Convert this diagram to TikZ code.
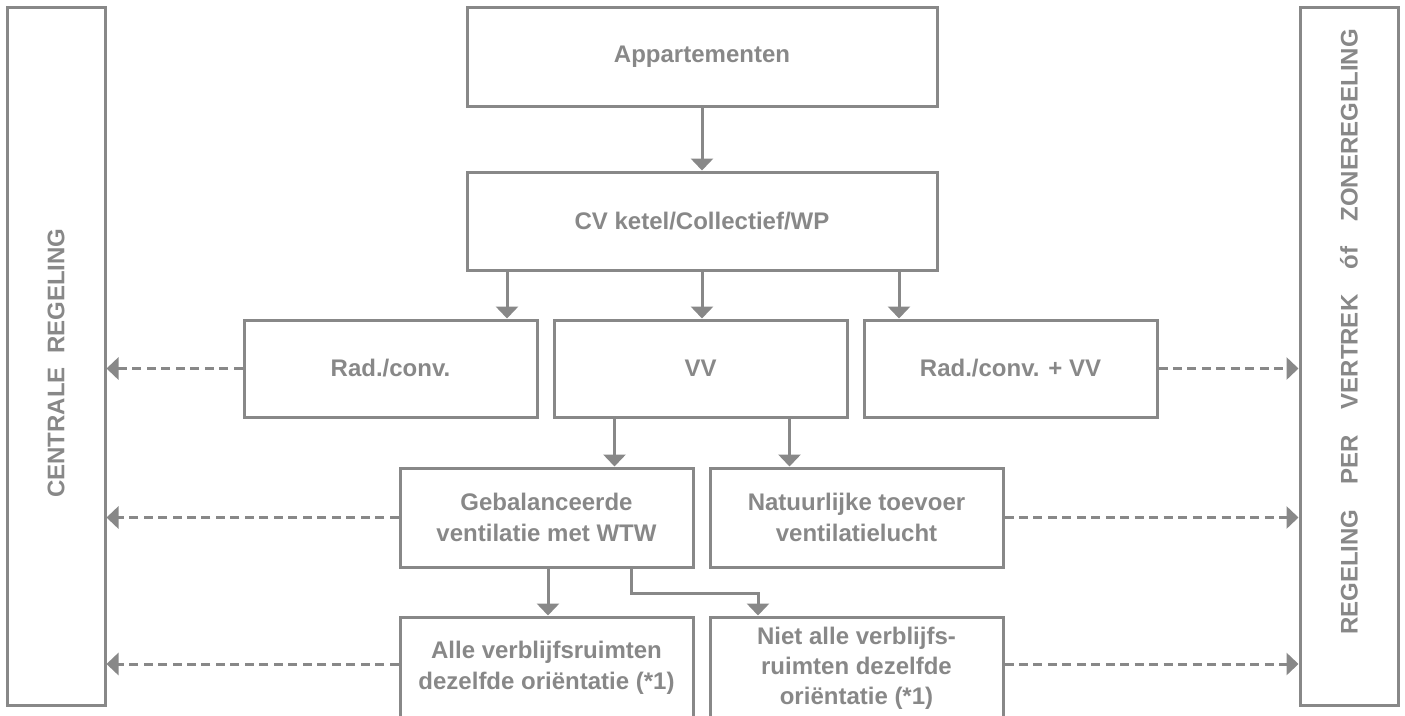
\documentclass[tikz,border=0pt]{standalone}
\usepackage{fontspec}
\setmainfont{Liberation Sans}
\usetikzlibrary{arrows.meta, calc}
\definecolor{LineGray}{RGB}{136,136,136}

\begin{document}
\begin{tikzpicture}[x=0.75pt, y=-0.75pt,
    every node/.style={text=LineGray, font=\bfseries\fontsize{18}{23.25}\selectfont},
    box/.style={draw=LineGray, line width=2.25pt, align=center, minimum width=219.75pt, minimum height=72.75pt},
    widebox/.style={box, minimum width=352.5pt, minimum height=74.25pt},
    sidebox/.style={box, minimum width=73.5pt, minimum height=523.5pt},
    flow/.style={draw=LineGray, line width=2.25pt, -{Triangle[width=16.5pt, length=9pt]}},
    link/.style={flow, dash pattern=on 6.75pt off 4.1pt}]
  \useasboundingbox (0,0) rectangle (1405,715);

  % side boxes
  \node[sidebox] (central) at (56,356) {};
  \node[sidebox] (zone) at (1349,356) {};
  \node[rotate=90] (centrallbl) at (56,363) {CENTRALE\ \ REGELING};
  \node[rotate=90] (zonelbl) at (1349,332) {REGELING\hspace{19pt}PER\hspace{19pt}VERTREK\hspace{19pt}óf\hspace{19pt}ZONEREGELING};

  % main column
  \node[widebox] (app) at (702,56.5) {Appartementen};
  \node[widebox, minimum height=73.5pt] (cv) at (702,221) {CV ketel/Collectief/WP};
  \node[box] (rad) at (390.5,368.5) {Rad./conv.};
  \node[box] (vv) at (700.5,368.5) {VV};
  \node[box] (radvv) at (1010.5,368.5) {Rad./conv. + VV};
  \node[box, minimum height=74.25pt] (geb) at (546.5,517.5) {Gebalanceerde\\ventilatie met WTW};
  \node[box, minimum height=74.25pt] (nat) at (856.5,517.5) {Natuurlijke toevoer\\ventilatielucht};
  \node[box, minimum height=76.5pt] (alle) at (546.5,668) {Alle verblijfsruimten\\dezelfde oriëntatie (*1)};
  \node[box, minimum height=76.5pt, font=\bfseries\fontsize{18}{22.5}\selectfont] (niet) at (856.5,668) {Niet alle verblijfs-\\ruimten dezelfde\\oriëntatie (*1)};

  % solid arrows
  \draw[flow] (app) -- (cv);
  \draw[flow] ($(cv.south)+(-195,0)$) coordinate (c1) -- (c1 |- rad.north);
  \draw[flow] (cv.south) coordinate (c2) -- (c2 |- vv.north);
  \draw[flow] ($(cv.south)+(197,0)$) coordinate (c3) -- (c3 |- radvv.north);
  \draw[flow] ($(vv.south)+(-86,0)$) coordinate (v1) -- (v1 |- geb.north);
  \draw[flow] ($(vv.south)+(89,0)$) coordinate (v2) -- (v2 |- nat.north);
  \draw[flow] ($(geb.south)+(1.5,0)$) coordinate (g1) -- (g1 |- alle.north);
  \draw[flow] ($(geb.south)+(84.5,0)$) coordinate (g2) -- ++(0,25) -| ($(niet.north)+(-98.5,0)$);

  % dashed links to the side boxes
  \draw[link] (rad.west) -- (rad.west -| central.east);
  \draw[link] (geb.west) -- (geb.west -| central.east);
  \draw[link] ($(alle.west)+(0,-4)$) coordinate (a1) -- (a1 -| central.east);
  \draw[link] (radvv.east) -- (radvv.east -| zone.west);
  \draw[link] (nat.east) -- (nat.east -| zone.west);
  \draw[link] ($(niet.east)+(0,-4)$) coordinate (n1) -- (n1 -| zone.west);
\end{tikzpicture}
\end{document}
